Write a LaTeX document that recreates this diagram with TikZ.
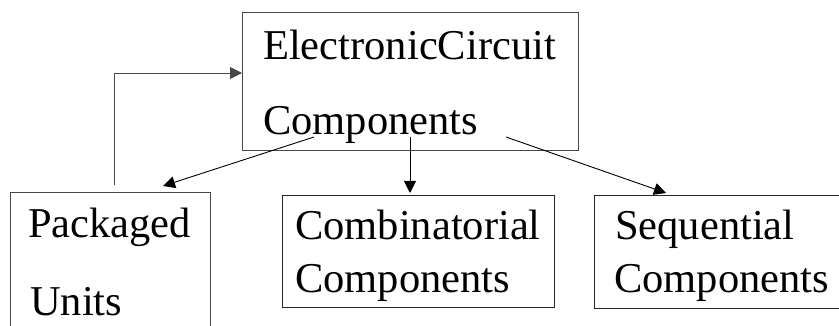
\documentclass[tikz,border=0pt]{standalone}
\usepackage{fontspec}
\setmainfont{Liberation Serif}
\usetikzlibrary{arrows.meta}
\begin{document}
\begin{tikzpicture}[x=1pt,y=-1pt,
  box/.style={draw=black!72,line width=1pt,inner sep=0pt,anchor=north west,rectangle},
  lbl/.style={anchor=base west,inner sep=0pt,font=\fontsize{42.5}{48}\selectfont},
  conn/.style={line width=0.9pt,-{Triangle[length=12pt,width=12pt]}}]
\useasboundingbox (0,0) rectangle (839,326);
% boxes
\node[box,minimum width=336pt,minimum height=138pt] (ecc) at (242,12) {};
\node[box,minimum width=200pt,minimum height=160pt] (pkg) at (10,192) {};
\node[box,minimum width=272pt,minimum height=112pt,draw=black!85] (comb) at (282,195) {};
\node[box,minimum width=260pt,minimum height=113pt,draw=black!85] (seq) at (594,195) {};
% labels
\node[lbl] (ecc1) at (263,60) {ElectronicCircuit};
\node[lbl] (ecc2) at (263,135) {Components};
\node[lbl] (pkg1) at (28,238) {Packaged};
\node[lbl] (pkg2) at (30,315) {Units};
\node[lbl] (comb1) at (295,240) {Combinatorial};
\node[lbl] (comb2) at (295,292) {Components};
\node[lbl] (seq1) at (615,240) {Sequential};
\node[lbl] (seq2) at (614,292) {Components};
% connector end points
\coordinate (up) at (114,185);
\coordinate (in) at (242,73);
\coordinate (s1) at (314,137);
\coordinate (t1) at (163,186);
\coordinate (s2) at (410,137);
\coordinate (t2) at (410,193);
\coordinate (s3) at (506,137);
\coordinate (t3) at (666,193);
% connectors
\draw[conn,draw=black!72] (up) |- (in);
\draw[conn] (s1) -- (t1);
\draw[conn] (s2) -- (t2);
\draw[conn] (s3) -- (t3);
\end{tikzpicture}
\end{document}
